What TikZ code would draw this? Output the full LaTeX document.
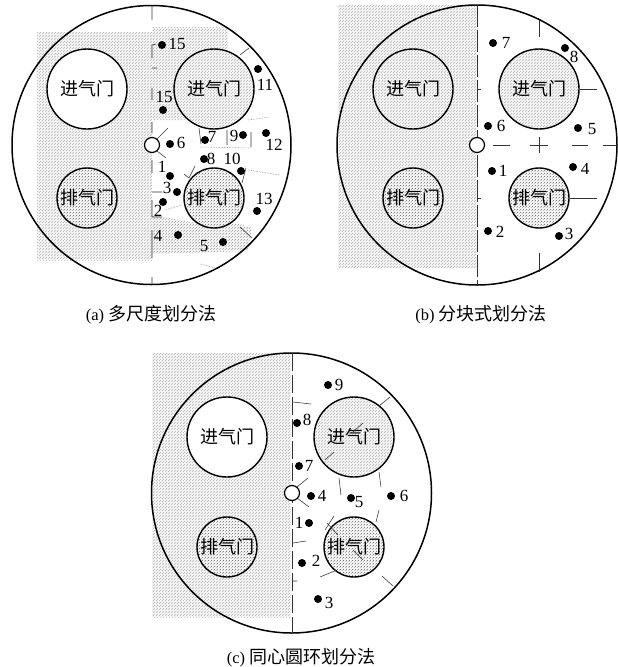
\documentclass[tikz,border=0pt]{standalone}
\usepackage{fontspec}
\setmainfont{Liberation Serif}
\newfontfamily\cjk{Noto Sans CJK SC}
\usetikzlibrary{patterns}
\pgfdeclarepatternformonly{speck}{\pgfpointorigin}{\pgfqpoint{3pt}{3pt}}{\pgfqpoint{3pt}{3pt}}{%
  \pgfpathrectangle{\pgfqpoint{0pt}{0pt}}{\pgfqpoint{.8pt}{.8pt}}%
  \pgfpathrectangle{\pgfqpoint{1.5pt}{1.5pt}}{\pgfqpoint{.8pt}{.8pt}}%
  \pgfusepath{fill}}
\definecolor{stipgray}{gray}{0.95}
\tikzset{
  stipple/.style={preaction={fill=stipgray},preaction={pattern=speck,pattern color=black!50}},
  stipbg/.style={draw=none,stipple},
  bigc/.style={draw=black,line width=1.5pt,fill=none},
  valve/.style={circle,draw=black,line width=1.4pt,inner sep=0pt,font=\cjk\fontsize{18}{18}\selectfont},
  inlet/.style={valve,minimum size=80pt},
  outlet/.style={valve,minimum size=60pt},
  spark/.style={circle,draw=black,line width=1.2pt,fill=white,minimum size=15pt,inner sep=0pt},
  ptdot/.style={circle,fill=black,minimum size=8pt,inner sep=0pt},
  numlab/.style={inner sep=0pt,font=\fontsize{17}{17}\selectfont},
  captext/.style={inner sep=0pt,font=\fontsize{16.5}{18}\selectfont},
  seg/.style={draw=black!80,line width=.55pt},
  axisline/.style={draw=black!80,line width=.7pt},
  faint/.style={draw=black!45,line width=.6pt,densely dotted},
}
\newcommand{\capcjk}[1]{{\cjk\fontsize{18}{18}\selectfont #1}}
\newcommand{\pl}[6]{\node[ptdot] (#1) at (#2,#3) {}; \node[numlab] (#1t) at (#4,#5) {#6};}
\begin{document}
\begin{tikzpicture}[x=1pt,y=-1pt]
\useasboundingbox (0,0) rectangle (618,667);
\fill[white] (0,0) rectangle (618,667);
% ---------- panel a
\path[stipbg] (37,32) rectangle (152,260);
\path[stipbg] (152,27) -- (228,27) -- (228,62) -- (190,120) -- (152,120) -- cycle;
\path[stipbg] (152,215) -- (190,222) -- (240,224) -- (252,228) -- (248,251) -- (152,254) -- cycle;
\node[inlet,fill=white] (aI1) at (87,89) {进气门};
\node[inlet,stipple] (aI2) at (214,89) {进气门};
\node[outlet,stipple] (aE1) at (87,198) {排气门};
\node[outlet,stipple] (aE2) at (214,198) {排气门};
\draw[bigc] (151.5,145) circle[radius=139.5];
\draw[axisline] (152,5)--(152,20) (152,45)--(152,58) (152,45)--(156,44) (152,68)--(157,68) (152,88)--(152,100)
  (152,122)--(152,133) (152,160)--(152,173) (152,192)--(162,192) (152,200)--(152,217)--(162,217)
  (152,230)--(152,258) (152,277)--(152,285);
\draw[seg] (157,139)--(168,128) (157,151)--(166,158) (240,55)--(249,48) (240,227)--(252,238)
  (199,128)--(201,144) (227,130)--(227,145) (251,132)--(251,147)
  (184,174)--(189,178)--(195,166) (246,168)--(242,183);
\draw[faint] (200,147)--(250,148) (248,170)--(280,175) (248,120)--(270,117) (165,210)--(182,205) (200,264)--(215,268);
\node[spark] (aS) at (152,145) {};
\pl{a15a}{162}{45}{177}{44}{15}
\pl{a15b}{163}{110}{164}{97}{15}
\pl{a11}{258}{69}{265}{85}{11}
\pl{a6}{170}{144}{181}{143}{6}
\pl{a7}{205}{140}{212}{137}{7}
\pl{a9}{243}{135}{234}{136}{9}
\pl{a12}{266}{133}{274}{145}{12}
\pl{a8}{204}{159}{211}{159}{8}
\pl{a10}{241}{171}{232}{159}{10}
\pl{a1}{170}{176}{162}{167}{1}
\pl{a3}{177}{192}{167}{188}{3}
\pl{a2}{163}{202}{158}{211}{2}
\pl{a13}{257}{211}{264}{199}{13}
\pl{a4}{178}{235}{158}{236}{4}
\pl{a5}{223}{242}{204}{246}{5}
\node[captext] (capa) at (151,315) {(a) \capcjk{多尺度划分法}};
% ---------- panel b
\path[stipbg] (338,5) rectangle (477,268);
\node[inlet,stipple] (bI1) at (413,89) {进气门};
\node[inlet,stipple] (bI2) at (539,89) {进气门};
\node[outlet,stipple] (bE1) at (413,198) {排气门};
\node[outlet,stipple] (bE2) at (539,198) {排气门};
\draw[bigc] (477,145) circle[radius=140];
\draw[axisline,dashed,dash pattern=on 22pt off 3pt] (477,5)--(477,285);
\draw[seg] (477,89)--(481,89) (477,198)--(481,198)
  (539,20)--(539,37) (539,137)--(539,153) (539,253)--(539,272)
  (580,89)--(597,89) (570,198)--(597,198)
  (493,145)--(510,145) (530,145)--(548,145) (572,145)--(588,145) (603,145)--(617,145);
\node[spark] (bS) at (477,145) {};
\pl{b7}{493}{43}{506}{43}{7}
\pl{b8}{565}{48}{574}{57}{8}
\pl{b6}{488}{126}{501}{126}{6}
\pl{b5}{578}{128}{592}{129}{5}
\pl{b1}{492}{171}{503}{171}{1}
\pl{b4}{573}{167}{585}{169}{4}
\pl{b2}{488}{231}{500}{232}{2}
\pl{b3}{559}{236}{569}{234}{3}
\node[captext] (capb) at (481,315) {(b) \capcjk{分块式划分法}};
% ---------- panel c
\path[stipbg] (152,353) rectangle (291,617);
\node[inlet,fill=white] (cI1) at (227,437) {进气门};
\node[inlet,stipple] (cI2) at (354,437) {进气门};
\node[outlet,stipple] (cE1) at (227,547) {排气门};
\node[outlet,stipple] (cE2) at (354,547) {排气门};
\draw[bigc] (291.5,493) circle[radius=140];
\draw[axisline,dashed,dash pattern=on 18pt off 4pt] (292,353)--(292,633);
\draw[seg] (293,402)--(311,404) (293,543)--(306,541) (292,581)--(297,581)
  (297,487)--(308,478) (297,498)--(309,507) (379,406)--(390,397) (382,576)--(393,586)
  (325,460)--(334,452) (353,432)--(363,423) (339,478)--(341,495) (379,472)--(381,487)
  (379,510)--(376,522) (325,530)--(334,516) (327,523)--(338,535) (353,550)--(363,560)
  (320,577)--(337,570);
\node[spark] (cS) at (292,493) {};
\pl{c9}{328}{385}{339}{385}{9}
\pl{c8}{297}{423}{307}{420}{8}
\pl{c7}{299}{466}{309}{466}{7}
\pl{c4}{311}{496}{322}{496}{4}
\pl{c5}{351}{498}{359}{502}{5}
\pl{c6}{391}{496}{404}{496}{6}
\pl{c1}{309}{523}{299}{523}{1}
\pl{c2}{302}{563}{316}{561}{2}
\pl{c3}{318}{599}{329}{603}{3}
\node[captext] (capc) at (301,658) {(c) \capcjk{同心圆环划分法}};
\end{tikzpicture}
\end{document}
